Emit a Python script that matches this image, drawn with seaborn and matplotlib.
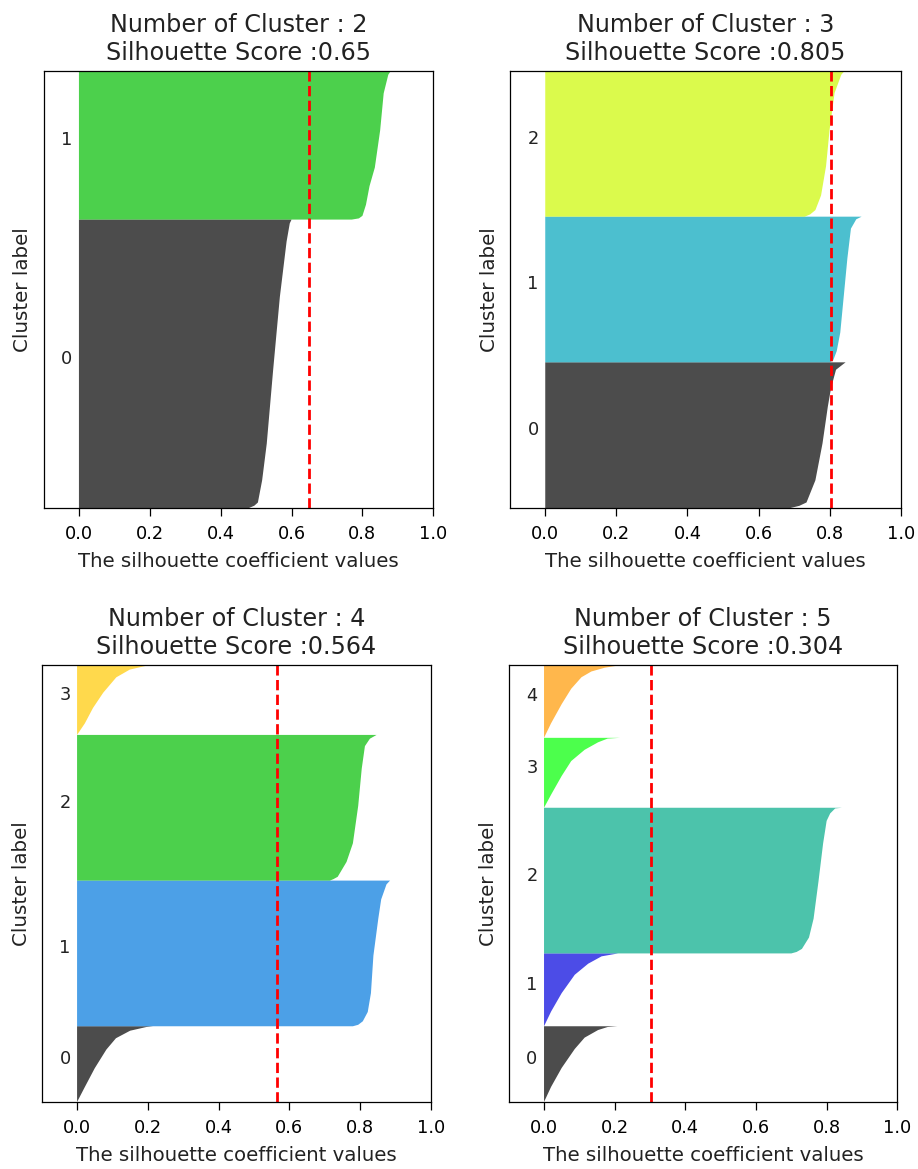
import numpy as np
import matplotlib
matplotlib.use("Agg")
import matplotlib.pyplot as plt
import seaborn as sns

# ---------------- data ----------------
n_samples = 150
x_ticks = [0.0, 0.2, 0.4, 0.6, 0.8, 1.0]

# k = 2
k2_score = 0.65
k2_sizes = [99, 51]
k2_fracs = [[0, 0.008, 0.019, 0.096, 0.223, 0.478, 0.732, 0.924, 0.987, 1.0],
            [0, 0.008, 0.025, 0.10, 0.225, 0.35, 0.60, 0.85, 0.975, 1.0]]
k2_vals = [[0.48, 0.495, 0.505, 0.517, 0.53, 0.548, 0.567, 0.586, 0.595, 0.60],
           [0.77, 0.79, 0.80, 0.81, 0.82, 0.835, 0.85, 0.86, 0.873, 0.88]]

# k = 3
k3_score = 0.805
k3_sizes = [50, 50, 50]
k3_fracs = [[0, 0.015, 0.038, 0.19, 0.443, 0.696, 0.823, 0.949, 0.987, 1.0],
            [0, 0.013, 0.077, 0.204, 0.459, 0.714, 0.918, 0.982, 1.0],
            [0, 0.015, 0.045, 0.146, 0.347, 0.598, 0.849, 0.975, 1.0]]
k3_vals = [[0.69, 0.715, 0.735, 0.76, 0.78, 0.795, 0.804, 0.818, 0.838, 0.845],
           [0.80, 0.81, 0.82, 0.83, 0.84, 0.85, 0.86, 0.875, 0.89],
           [0.73, 0.745, 0.76, 0.776, 0.79, 0.80, 0.814, 0.833, 0.842]]

# k = 4
k4_score = 0.564
k4_sizes = [26, 50, 50, 24]
k4_fracs = [[0, 0.198, 0.446, 0.693, 0.842, 0.941, 0.99, 1.0],
            [0, 0.01, 0.034, 0.098, 0.227, 0.485, 0.742, 0.871, 0.974, 1.0],
            [0, 0.01, 0.026, 0.128, 0.256, 0.513, 0.769, 0.923, 0.974, 1.0],
            [0, 0.165, 0.385, 0.604, 0.824, 0.934, 0.989, 1.0]]
k4_vals = [[0.0, 0.022, 0.05, 0.083, 0.11, 0.15, 0.196, 0.215],
           [0.78, 0.795, 0.808, 0.822, 0.831, 0.838, 0.852, 0.86, 0.875, 0.885],
           [0.715, 0.725, 0.737, 0.762, 0.78, 0.795, 0.805, 0.814, 0.828, 0.847],
           [0.0, 0.022, 0.045, 0.074, 0.111, 0.149, 0.196, 0.215]]

# k = 5
k5_score = 0.304
k5_sizes = [26, 25, 50, 24, 25]
k5_fracs = [[0, 0.20, 0.45, 0.70, 0.85, 0.95, 0.99, 1.0],
            [0, 0.202, 0.455, 0.707, 0.859, 0.96, 1.0],
            [0, 0.01, 0.031, 0.109, 0.238, 0.496, 0.755, 0.91, 0.961, 0.995, 1.0],
            [0, 0.187, 0.455, 0.668, 0.829, 0.936, 0.989, 1.0],
            [0, 0.20, 0.463, 0.674, 0.832, 0.911, 0.963, 1.0]]
k5_vals = [[0.0, 0.02, 0.05, 0.087, 0.115, 0.153, 0.18, 0.208],
           [0.0, 0.02, 0.05, 0.087, 0.125, 0.163, 0.21],
           [0.70, 0.715, 0.73, 0.75, 0.763, 0.777, 0.79, 0.80, 0.81, 0.824, 0.843],
           [0.0, 0.02, 0.05, 0.077, 0.115, 0.153, 0.18, 0.215],
           [0.0, 0.02, 0.05, 0.077, 0.106, 0.134, 0.172, 0.22]]

panels = [
    (2, k2_score, k2_sizes, k2_fracs, k2_vals),
    (3, k3_score, k3_sizes, k3_fracs, k3_vals),
    (4, k4_score, k4_sizes, k4_fracs, k4_vals),
    (5, k5_score, k5_sizes, k5_fracs, k5_vals),
]

# ---------------- styling ----------------
sns.set_style("ticks", {"axes.edgecolor": "black", "xtick.color": "black",
                        "text.color": "#222222", "axes.labelcolor": "#222222"})
plt.rcParams["font.family"] = ["DejaVu Sans"]
plt.rcParams["xtick.major.size"] = 5.5
plt.rcParams["xtick.major.width"] = 0.9
plt.rcParams["axes.linewidth"] = 0.9

W, H = 918, 1169
fig = plt.figure(figsize=(W / 100, H / 100), dpi=100)

# axes boxes in pixels: left, top, right, bottom
boxes = [(43.5, 71.0, 433.3, 508.0),
         (509.7, 71.0, 900.7, 508.0),
         (41.7, 665.0, 430.7, 1102.0),
         (508.7, 665.0, 897.3, 1102.0)]

cmap = sns.color_palette("nipy_spectral", as_cmap=True)

for (k, score, sizes, fracs, vals), (l, t, r, b) in zip(panels, boxes):
    ax = fig.add_axes([l / W, 1 - b / H, (r - l) / W, (b - t) / H])
    y_lower = 0
    for i in range(k):
        size = sizes[i]
        y = y_lower + np.asarray(fracs[i]) * size
        color = cmap(float(i) / k)
        ax.fill_betweenx(y, 0, vals[i], facecolor=color, edgecolor="none",
                         alpha=0.7, linewidth=0)
        ax.text(-0.05, y_lower + 0.5 * size, str(i), fontsize=12.8,
                color="#222222")
        y_lower += size
    ax.axvline(x=score, color="red", linestyle="--", linewidth=2.0)
    ax.set_xlim([-0.1, 1])
    ax.set_ylim([0, n_samples])
    ax.set_yticks([])
    ax.set_xticks(x_ticks)
    ax.tick_params(axis="x", labelsize=12.8, pad=7)
    ax.set_xlabel("The silhouette coefficient values", fontsize=14.2,
                  labelpad=6)
    ax.set_ylabel("Cluster label", fontsize=14.3, labelpad=8)
    ax.set_title("Number of Cluster : " + str(k) + "\n"
                 "Silhouette Score :" + str(round(score, 3)),
                 fontsize=17.2, pad=8, color="#222222")

fig.savefig("out.png", dpi=100)
